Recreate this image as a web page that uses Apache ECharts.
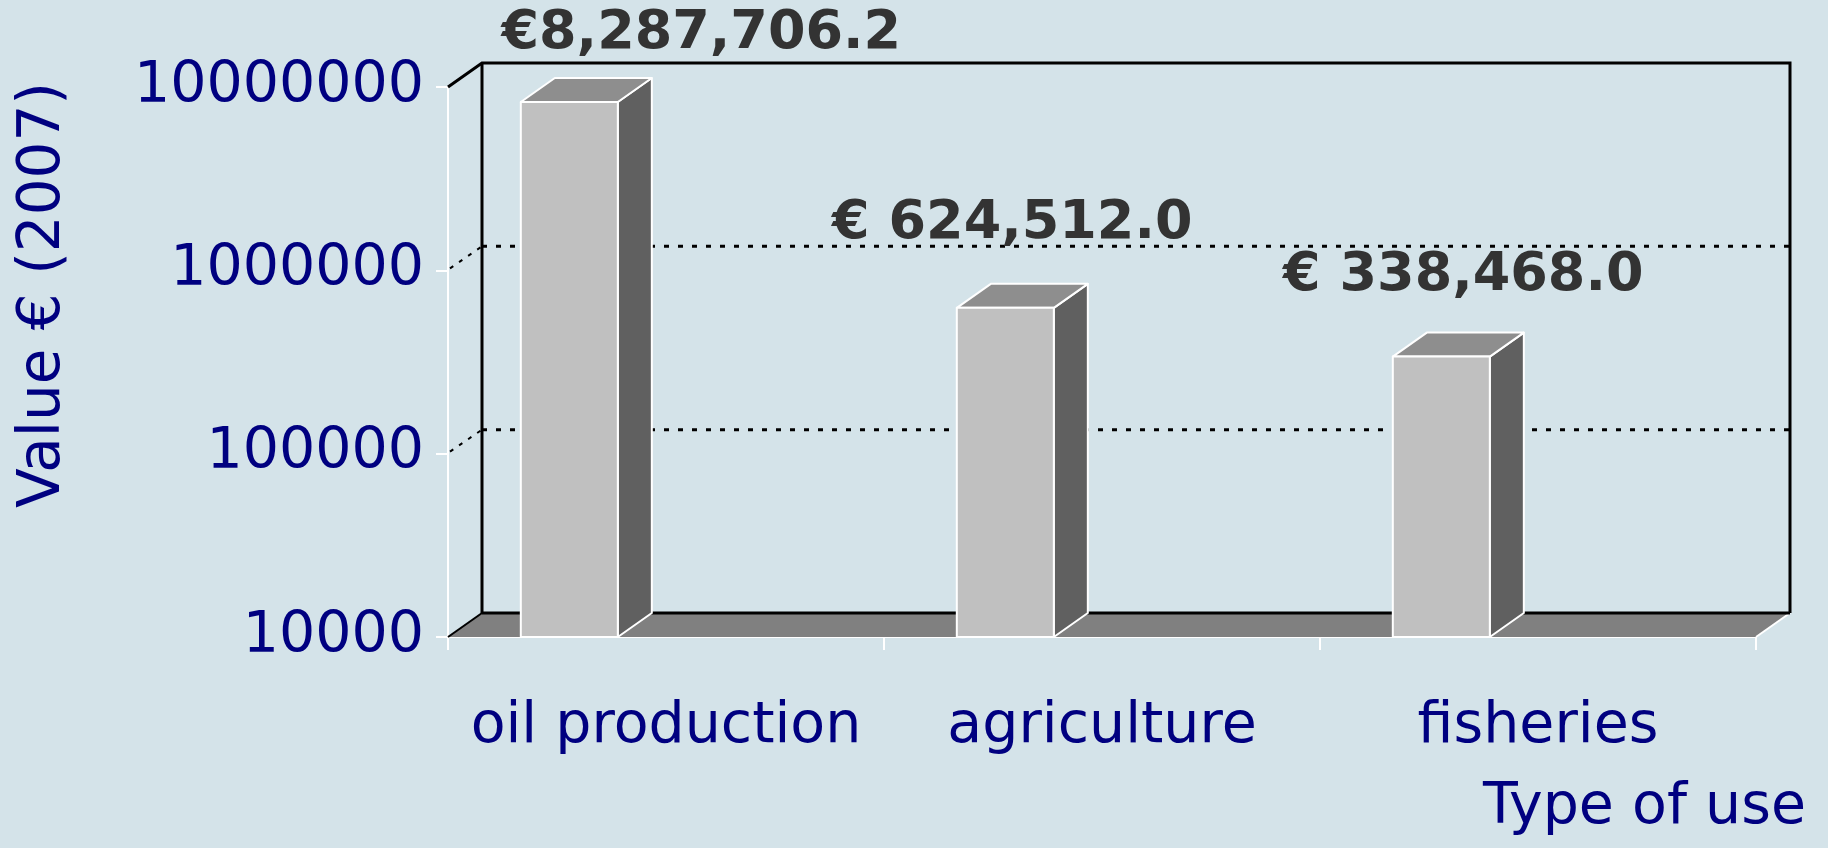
<!DOCTYPE html>
<html>
<head>
<meta charset="utf-8">
<script src="https://cdn.jsdelivr.net/npm/echarts@6/dist/echarts.min.js"></script>
<style>
  html, body { margin: 0; padding: 0; background: #d4e3e9; }
  #chart { width: 1828px; height: 848px; }
</style>
</head>
<body>
<div id="chart"></div>
<script>
// data
const categories = ["oil production", "agriculture", "fisheries"];
const values = [8287706.2, 624512.0, 338468.0];
const barLabels = ["€8,287,706.2", "€ 624,512.0", "€ 338,468.0"];
const yTicks = [10000, 100000, 1000000, 10000000];
const yTickLabels = ["10000", "100000", "1000000", "10000000"];

const navy = "#000080";
const font = "DejaVu Sans";
// fake 3d depth (px)
const DX = 34;
const DY = 24;
// label nudges, like the hand-placed labels in the picture
const labelShift = [[132, -68], [7, -84], [22, -81]];

const chart = echarts.init(document.getElementById("chart"));

function renderWalls(params, api) {
  const cs = params.coordSys;
  const x0 = cs.x;
  const x1 = cs.x + cs.width;
  const yb = cs.y + cs.height;
  const yt = cs.y;
  const kids = [];
  // floor
  kids.push({
    type: "polygon",
    shape: { points: [[x0, yb], [x1, yb], [x1 + DX, yb - DY], [x0 + DX, yb - DY]] },
    style: { fill: "#808080" },
  });
  kids.push({
    type: "line",
    shape: { x1: x1, y1: yb, x2: x1 + DX, y2: yb - DY },
    style: { stroke: "#fff", lineWidth: 2 },
  });
  kids.push({
    type: "line",
    shape: { x1: x0, y1: yb, x2: x0 + DX, y2: yb - DY },
    style: { stroke: "#000", lineWidth: 2 },
  });
  // dotted grid lines on back wall + side ticks
  yTicks.forEach((t, i) => {
    const y = api.coord([0, t])[1];
    if (i > 0 && i < yTicks.length - 1) {
      kids.push({
        type: "line",
        shape: { x1: x0 + DX, y1: y - DY, x2: x1 + DX, y2: y - DY },
        style: { stroke: "#000", lineWidth: 3, lineDash: [5, 9] },
      });
      kids.push({
        type: "line",
        shape: { x1: x0 + 2, y1: y - 2, x2: x0 + DX, y2: y - DY },
        style: { stroke: "#000", lineWidth: 2, lineDash: [4, 7] },
      });
    }
  });
  // back wall frame
  kids.push({
    type: "polyline",
    shape: { points: [[x0, yt], [x0 + DX, yt - DY], [x1 + DX, yt - DY], [x1 + DX, yb - DY]] },
    style: { stroke: "#000", lineWidth: 3, fill: null },
  });
  kids.push({
    type: "line",
    shape: { x1: x0 + DX, y1: yt - DY, x2: x0 + DX, y2: yb - DY },
    style: { stroke: "#000", lineWidth: 3 },
  });
  kids.push({
    type: "line",
    shape: { x1: x0 + DX, y1: yb - DY, x2: x1 + DX, y2: yb - DY },
    style: { stroke: "#000", lineWidth: 3 },
  });
  return { type: "group", children: kids };
}

function renderBar(params, api) {
  const cs = params.coordSys;
  const i = api.value(0);
  const band = cs.width / categories.length;
  const top = api.coord([i, api.value(1)]);
  const base = api.coord([i, yTicks[0]]);
  const left = top[0] - band / 2 + band * 0.167;
  const right = left + band * 0.2225;
  const yT = top[1];
  const yB = base[1];
  const edge = { stroke: "#fff", lineWidth: 2, lineJoin: "round" };
  const sh = labelShift[params.dataIndex];
  return {
    type: "group",
    children: [
      {
        type: "polygon",
        shape: { points: [[right, yB], [right, yT], [right + DX, yT - DY], [right + DX, yB - DY]] },
        style: Object.assign({ fill: "#606060" }, edge),
      },
      {
        type: "polygon",
        shape: { points: [[left, yT], [right, yT], [right + DX, yT - DY], [left + DX, yT - DY]] },
        style: Object.assign({ fill: "#8e8e8e" }, edge),
      },
      {
        type: "rect",
        shape: { x: left, y: yT, width: right - left, height: yB - yT },
        style: Object.assign({ fill: "#c0c0c0" }, edge),
      },
      {
        type: "text",
        style: {
          text: barLabels[params.dataIndex],
          x: (left + right) / 2 + sh[0],
          y: yT + sh[1],
          align: "center",
          verticalAlign: "middle",
          fontFamily: font,
          fontWeight: "bold",
          fontSize: 54,
          fill: "#333333",
        },
      },
    ],
  };
}

const option = {
  backgroundColor: "#d4e3e9",
  animation: false,
  grid: { left: 448, right: 72, top: 87, bottom: 211 },
  xAxis: {
    type: "category",
    data: categories,
    axisLine: { lineStyle: { color: "#fff", width: 2 } },
    axisTick: { show: true, interval: 0, length: 13, lineStyle: { color: "#fff", width: 2 } },
    axisLabel: { interval: 0, color: navy, fontSize: 57, fontFamily: font, margin: 62 },
    splitLine: { show: false },
  },
  yAxis: {
    type: "log",
    logBase: 10,
    min: 10000,
    max: 10000000,
    axisLine: { show: true, lineStyle: { color: "#fff", width: 2 } },
    axisTick: { show: true, length: 12, lineStyle: { color: "#fff", width: 2 } },
    axisLabel: {
      color: navy,
      fontSize: 57,
      fontFamily: font,
      margin: 24,
      formatter: (v) => {
        const k = yTicks.findIndex((t) => Math.abs(t - v) / t < 0.001);
        return k >= 0 ? yTickLabels[k] : "";
      },
    },
    splitLine: { show: false },
  },
  graphic: [
    {
      type: "text",
      left: 15,
      top: 82,
      rotation: Math.PI / 2,
      style: {
        text: "Value € (2007)",
        fontFamily: font,
        fontSize: 58,
        fill: navy,
      },
    },
    {
      type: "text",
      right: 22,
      top: 780,
      style: {
        text: "Type of use",
        fontFamily: font,
        fontSize: 57,
        fill: navy,
      },
    },
  ],
  series: [
    {
      type: "custom",
      renderItem: renderWalls,
      data: [[0, 10000]],
      z: 1,
      silent: true,
    },
    {
      type: "custom",
      renderItem: renderBar,
      data: values.map((v, i) => [i, v]),
      z: 2,
    },
  ],
};

chart.setOption(option);
</script>
</body>
</html>
